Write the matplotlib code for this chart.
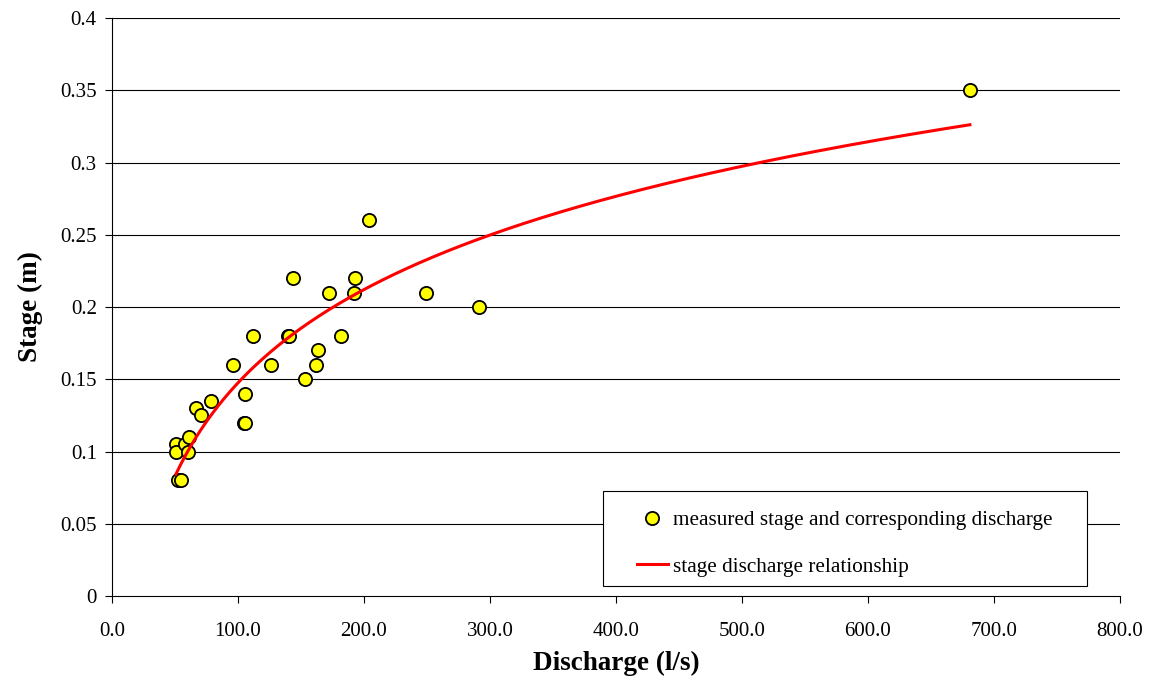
import numpy as np
import matplotlib
matplotlib.use("Agg")
import matplotlib.pyplot as plt
from matplotlib.patches import Rectangle

# Measured discharge (l/s) and stage (m)
discharge = [50.8, 50.8, 52.5, 55.0, 58.0, 60.0, 61.0, 66.7, 71.0, 78.6,
             96.0, 104.8, 105.6, 105.6, 112.0, 126.0, 139.7, 140.5, 143.7,
             153.0, 162.0, 163.5, 172.0, 182.0, 192.0, 193.0, 204.0, 249.0,
             291.0, 681.0]
stage = [0.105, 0.100, 0.080, 0.080, 0.105, 0.100, 0.110, 0.130, 0.125, 0.135,
         0.160, 0.120, 0.120, 0.140, 0.180, 0.160, 0.180, 0.180, 0.220,
         0.150, 0.160, 0.170, 0.210, 0.180, 0.210, 0.220, 0.260, 0.210,
         0.200, 0.350]

# Logarithmic rating curve: stage = a * ln(Q) + c
rating_a = 0.0931
rating_c = -0.2812

x_ticks = [0, 100, 200, 300, 400, 500, 600, 700, 800]
y_ticks = [0, 0.05, 0.1, 0.15, 0.2, 0.25, 0.3, 0.35, 0.4]

plt.rcParams['font.family'] = ['Liberation Serif', 'DejaVu Serif']

fig = plt.figure(figsize=(11.61, 6.80), dpi=100)
ax = fig.add_axes([0.0965, 0.1235, 0.868, 0.85])

for y in y_ticks[1:]:
    ax.axhline(y, color='black', lw=0.8, zorder=0)

q = np.linspace(min(discharge), max(discharge), 400)
ax.plot(q, rating_a * np.log(q) + rating_c, color='#ff0000', lw=2.2,
        zorder=3, label='stage discharge relationship')
ax.plot(discharge, stage, linestyle='none', marker='o', ms=9.5,
        markerfacecolor='#ffff00', markeredgecolor='black', mew=1.3,
        zorder=2, label='measured stage and corresponding discharge')

ax.set_xlim(0, 800)
ax.set_ylim(0, 0.4)
ax.set_xticks(x_ticks)
ax.set_xticklabels([f"{v:.1f}" for v in x_ticks])
ax.set_yticks(y_ticks)
ax.set_yticklabels([f"{v:g}" for v in y_ticks])
ax.tick_params(direction='out', length=5, width=0.8, labelsize=15, color='black')
ax.tick_params(axis='x', pad=14)
ax.tick_params(axis='y', pad=6)
for s in ['top', 'right']:
    ax.spines[s].set_visible(False)
for s in ['left', 'bottom']:
    ax.spines[s].set_linewidth(0.8)

ax.set_xlabel('Discharge (l/s)', fontsize=19.5, fontweight='bold', labelpad=7)
ax.set_ylabel('Stage (m)', fontsize=19.5, fontweight='bold', labelpad=12)

# Legend box
box_x0, box_x1 = 0.487, 0.967
box_y0, box_y1 = 0.0173, 0.1817
ax.add_patch(Rectangle((box_x0, box_y0), box_x1 - box_x0, box_y1 - box_y0,
                       transform=ax.transAxes, facecolor='white',
                       edgecolor='black', lw=0.8, zorder=4))

handles, labels = ax.get_legend_handles_labels()
leg = ax.legend(handles[::-1], labels[::-1], loc='center',
                bbox_to_anchor=((box_x0 + box_x1) / 2,
                                (box_y0 + box_y1) / 2 - 0.009),
                fontsize=15.3, frameon=False, borderpad=0,
                labelspacing=1.25, handlelength=1.45,
                handletextpad=0.25, borderaxespad=0)
leg.set_zorder(5)

fig.savefig('out.png', dpi=100)
